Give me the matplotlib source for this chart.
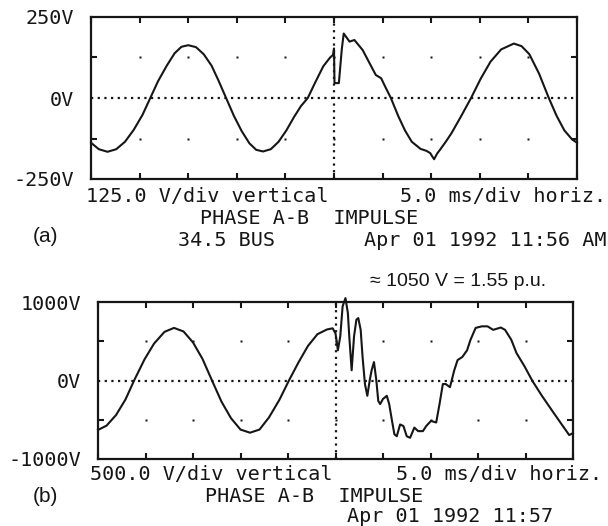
import matplotlib.pyplot as plt
import numpy as np

# Panel (a): 125 V/div, 5 ms/div  (time in ms, voltage in V)
t_a = [0, 0.8, 1.7, 2.6, 3.5, 4.4, 5.3, 6.1, 6.9, 7.8,
       8.6, 9.3, 10.0, 10.8, 11.6, 12.4, 13.1, 13.9, 14.7, 15.5,
       16.3, 17.0, 17.7, 18.5, 19.3, 20.1, 20.9, 21.6, 22.3, 23.1,
       23.9, 24.6, 24.9, 25.0, 25.05, 25.15, 25.5, 25.8, 26.0, 26.6,
       27.1, 27.95, 28.65, 29.3, 29.85, 30.35, 30.85, 31.6, 32.3, 33.0,
       33.9, 34.5, 34.9, 35.1, 35.3, 35.6, 35.9, 36.5, 37.1, 38.1,
       39.1, 40.1, 41.1, 42.2, 43.5, 44.3, 45.1, 46.1, 47.1, 47.9,
       48.7, 49.5, 50.0]
v_a = [-138, -158, -166, -158, -135, -98, -52, 0, 52, 100,
       138, 158, 163, 157, 135, 100, 55, 0, -55, -102,
       -140, -160, -165, -158, -135, -100, -58, -25, 0, 50,
       98, 125, 133, 153, 46, 46, 46, 150, 199, 174,
       179, 148, 108, 71, 61, 30, 0, -55, -100, -135,
       -157, -163, -170, -180, -189, -172, -160, -135, -108, -55,
       0, 60, 112, 150, 168, 160, 135, 75, 0, -55,
       -100, -128, -138]

# Panel (b): 500 V/div, 5 ms/div
t_b = [0, 0.9, 1.9, 2.9, 3.8, 4.9, 5.9, 7.0, 8.0, 9.0,
       10.0, 11.0, 12.0, 13.0, 14.0, 15.0, 16.0, 17.0, 18.0, 19.1,
       20.1, 21.1, 22.1, 23.1, 24.1, 24.7, 25.0, 25.25, 25.5, 25.75,
       26.05, 26.3, 26.45, 26.7, 26.95, 27.2, 27.4, 27.65, 27.85, 28.1,
       28.35, 28.6, 28.8, 29.05, 29.3, 29.5, 29.7, 30.0, 30.4, 30.65,
       30.95, 31.2, 31.45, 31.8, 32.15, 32.5, 32.85, 33.3, 33.7, 34.2,
       34.55, 35.05, 35.6, 35.95, 36.3, 36.6, 37.05, 37.5, 37.85, 38.35,
       38.85, 39.2, 39.75, 40.4, 41.0, 41.6, 42.4, 42.85, 43.5, 44.05,
       44.9, 45.7, 46.7, 47.75, 48.7, 49.6, 50.0]
v_b = [-630, -575, -440, -240, 0, 270, 470, 620, 670, 625,
       485, 275, 0, -270, -480, -625, -665, -625, -470, -245,
       0, 230, 440, 590, 650, 665, 600, 385, 560, 945,
       1050, 860, 560, 130, 560, 775, 795, 645, 300, -45,
       -195, 0, 130, 235, 0, -260, -300, -235, -195, -300,
       -515, -685, -710, -560, -580, -710, -730, -600, -645, -645,
       -580, -515, -535, -300, -45, -45, -85, 130, 260, 300,
       385, 515, 670, 690, 690, 645, 675, 645, 520, 350,
       180, 0, -190, -375, -540, -695, -670]

W, H = 608, 526
INK = '#161616'
MONO = 'DejaVu Sans Mono'
fig = plt.figure(figsize=(W / 100, H / 100), dpi=100)


def box(l, t, r, b):
    return [l / W, 1 - b / H, (r - l) / W, (b - t) / H]


def txt(x, y, s, ha='left', family=MONO, size=14.5):
    fig.text(x / W, 1 - y / H, s, ha=ha, va='center', family=family,
             fontsize=size, color=INK)


def scope(ax, t, v, vdiv, ylabels):
    ax.set_xlim(0, 50)
    ax.set_ylim(-2 * vdiv, 2 * vdiv)
    ax.plot(t, v, color=INK, lw=1.5, clip_on=False, zorder=4)
    # dotted centre lines
    ax.axhline(0, color=INK, lw=1.6, ls=(0, (1, 2)), zorder=2)
    ax.axvline(25, color=INK, lw=1.6, ls=(0, (1, 2)), zorder=2)
    # graticule dots
    xs = np.arange(5, 50, 5)
    for yy in (-vdiv, vdiv):
        ax.plot(xs, np.full(len(xs), yy), 's', ms=2.0, color=INK,
                mec='none', zorder=2)
    ax.set_xticks(np.arange(0, 51, 5))
    ax.tick_params(axis='x', direction='in', top=True, length=4, width=1.5,
                   labelbottom=False, color=INK)
    ax.set_yticks([-2 * vdiv, 0, 2 * vdiv], ylabels, family=MONO,
                  fontsize=14.5, color=INK)
    ax.tick_params(axis='y', which='major', length=0, pad=12)
    ax.set_yticks([-vdiv, vdiv], minor=True)
    ax.tick_params(axis='y', which='minor', direction='in', left=True,
                   right=True, length=4, width=1.5, color=INK)
    for s in ax.spines.values():
        s.set_linewidth(1.6)
        s.set_color(INK)


ax1 = fig.add_axes(box(91, 17, 577, 179))
scope(ax1, t_a, v_a, 125, ['-250V', '0V', '250V'])

ax2 = fig.add_axes(box(98, 302, 573, 459))
scope(ax2, t_b, v_b, 500, ['-1000V', '0V', '1000V'])

# captions panel (a)
txt(86, 196, '125.0 V/div vertical')
txt(606, 196, '5.0 ms/div horiz.', ha='right')
txt(200, 218, 'PHASE A-B  IMPULSE')
txt(33, 237, '(a)', family='Liberation Sans', size=15)
txt(178, 240, '34.5 BUS')
txt(606, 240, 'Apr 01 1992 11:56 AM', ha='right')

# captions panel (b)
txt(370, 281, '\u2248 1050 V = 1.55 p.u.', family='Liberation Sans', size=14)
txt(90, 474, '500.0 V/div vertical')
txt(602, 474, '5.0 ms/div horiz.', ha='right')
txt(33, 496, '(b)', family='Liberation Sans', size=15)
txt(205, 497, 'PHASE A-B  IMPULSE')
txt(553, 516, 'Apr 01 1992 11:57', ha='right')

fig.savefig('out.png', dpi=100, facecolor='white')
